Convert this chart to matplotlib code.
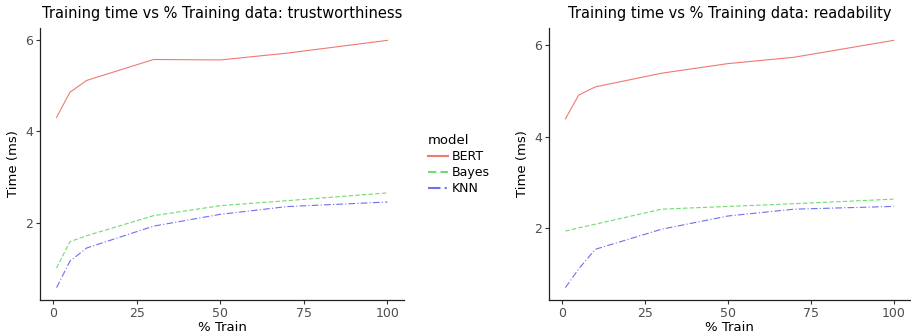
import matplotlib
matplotlib.use('Agg')
from matplotlib import pyplot as plt

pct = [1, 5, 10, 30, 50, 70, 100]

trust_bert = [4.31, 4.86, 5.12, 5.58, 5.57, 5.72, 6.00]
trust_bayes = [1.00, 1.58, 1.71, 2.15, 2.37, 2.48, 2.65]
trust_knn = [0.57, 1.15, 1.44, 1.92, 2.18, 2.35, 2.45]

read_bert = [4.39, 4.91, 5.09, 5.39, 5.60, 5.74, 6.11]
read_bayes = [1.93, 2.00, 2.08, 2.41, 2.47, 2.53, 2.63]
read_knn = [0.69, 1.10, 1.53, 1.97, 2.26, 2.41, 2.47]

models = ['BERT', 'Bayes', 'KNN']
colors = ['#EE7A72', '#6EDC6E', '#7070EE']
styles = ['-', (0, (4, 2)), (0, (6, 2, 1, 2))]

plt.rcParams['font.family'] = 'DejaVu Sans'
fig = plt.figure(figsize=(9.12, 3.34), dpi=100)
ax1 = fig.add_axes([40/912, 34/334, 364/912, 272/334])
ax2 = fig.add_axes([549/912, 34/334, 361/912, 272/334])


def panel(ax, series, title):
    for name, ys, c, ls in zip(models, series, colors, styles):
        ax.plot(pct, ys, color=c, linestyle=ls, linewidth=0.8, label=name)
    allv = [v for s in series for v in s]
    lo, hi = min(allv), max(allv)
    pad = (hi - lo) * 0.05
    ax.set_ylim(lo - pad, hi + pad)
    ax.set_xlim(1 - 4.95, 100 + 4.95)
    ax.set_xticks([0, 25, 50, 75, 100])
    ax.set_yticks([2, 4, 6])
    ax.set_title(title, fontsize=10.5, pad=7)
    ax.set_xlabel('% Train', fontsize=9.5, labelpad=1)
    ax.set_ylabel('Time (ms)', fontsize=9.5, labelpad=4)
    for s in ['top', 'right']:
        ax.spines[s].set_visible(False)
    for s in ['left', 'bottom']:
        ax.spines[s].set_color('#222222')
        ax.spines[s].set_linewidth(0.9)
    ax.tick_params(labelsize=9, colors='#4d4d4d', length=3, width=0.8, pad=2)
    ax.tick_params(axis='both', color='#333333')


panel(ax1, [trust_bert, trust_bayes, trust_knn], 'Training time vs % Training data: trustworthiness')
panel(ax2, [read_bert, read_bayes, read_knn], 'Training time vs % Training data: readability')

h, l = ax1.get_legend_handles_labels()
leg = fig.legend(h, l, title='model', loc='upper left', bbox_to_anchor=(423/912, 1 - 129/334),
                 frameon=False, fontsize=9, title_fontsize=9.5, handlelength=1.6,
                 handletextpad=0.3, labelspacing=0.25, borderaxespad=0)
leg._legend_box.align = 'left'
for line in leg.get_lines():
    line.set_linewidth(1.5)

plt.savefig('out.png', dpi=100)
